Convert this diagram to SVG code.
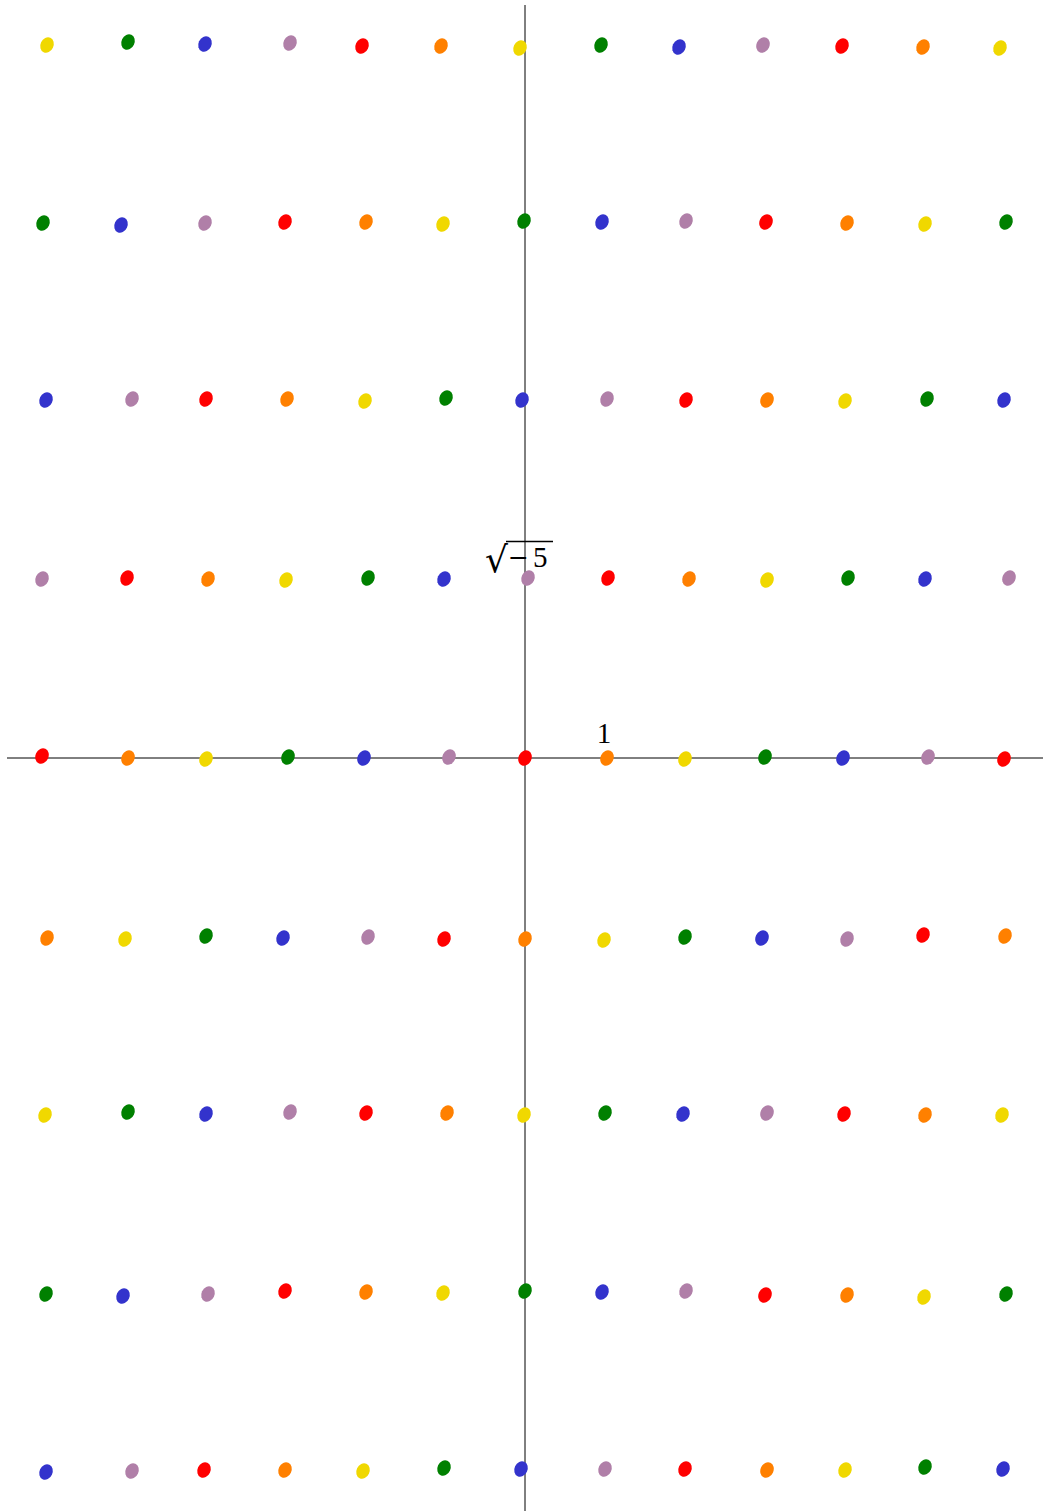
<svg xmlns="http://www.w3.org/2000/svg" width="1043" height="1511" viewBox="0 0 1043 1511">
<style>
.ax{stroke:#000;stroke-width:1;fill:none}
.r{fill:#ff0000}.o{fill:#ff8000}.y{fill:#f0d800}.g{fill:#008000}.b{fill:#3333cc}.p{fill:#b07fa8}
.lbl{font-family:"Liberation Serif","DejaVu Serif",serif;font-size:29px;fill:#000}
.rad{font-family:"DejaVu Serif",serif;font-size:36px;fill:#000}
.mn{font-family:"DejaVu Serif",serif;font-size:25px;fill:#000}
</style>
<defs>
<ellipse id="pt" cx="0" cy="0" rx="6.5" ry="8" transform="rotate(25)"/>
</defs>
<rect width="1043" height="1511" fill="#fff"/>
<g id="connectors">
<line class="ax" x1="7" y1="758" x2="1043" y2="758"/>
<line class="ax" x1="525" y1="5" x2="525" y2="1511"/>
</g>
<g id="row4">
<use href="#pt" class="y" x="47" y="45"/><use href="#pt" class="g" x="128" y="42"/><use href="#pt" class="b" x="205" y="44"/><use href="#pt" class="p" x="290" y="43"/><use href="#pt" class="r" x="362" y="46"/><use href="#pt" class="o" x="441" y="46"/><use href="#pt" class="y" x="520" y="48"/><use href="#pt" class="g" x="601" y="45"/><use href="#pt" class="b" x="679" y="47"/><use href="#pt" class="p" x="763" y="45"/><use href="#pt" class="r" x="842" y="46"/><use href="#pt" class="o" x="923" y="47"/><use href="#pt" class="y" x="1000" y="48"/>
</g>
<g id="row3">
<use href="#pt" class="g" x="43" y="223"/><use href="#pt" class="b" x="121" y="225"/><use href="#pt" class="p" x="205" y="223"/><use href="#pt" class="r" x="285" y="222"/><use href="#pt" class="o" x="366" y="222"/><use href="#pt" class="y" x="443" y="224"/><use href="#pt" class="g" x="524" y="221"/><use href="#pt" class="b" x="602" y="222"/><use href="#pt" class="p" x="686" y="221"/><use href="#pt" class="r" x="766" y="222"/><use href="#pt" class="o" x="847" y="223"/><use href="#pt" class="y" x="925" y="224"/><use href="#pt" class="g" x="1006" y="222"/>
</g>
<g id="row2">
<use href="#pt" class="b" x="46" y="400"/><use href="#pt" class="p" x="132" y="399"/><use href="#pt" class="r" x="206" y="399"/><use href="#pt" class="o" x="287" y="399"/><use href="#pt" class="y" x="365" y="401"/><use href="#pt" class="g" x="446" y="398"/><use href="#pt" class="b" x="522" y="400"/><use href="#pt" class="p" x="607" y="399"/><use href="#pt" class="r" x="686" y="400"/><use href="#pt" class="o" x="767" y="400"/><use href="#pt" class="y" x="845" y="401"/><use href="#pt" class="g" x="927" y="399"/><use href="#pt" class="b" x="1004" y="400"/>
</g>
<g id="row1">
<use href="#pt" class="p" x="42" y="579"/><use href="#pt" class="r" x="127" y="578"/><use href="#pt" class="o" x="208" y="579"/><use href="#pt" class="y" x="286" y="580"/><use href="#pt" class="g" x="368" y="578"/><use href="#pt" class="b" x="444" y="579"/><use href="#pt" class="p" x="528" y="578"/><use href="#pt" class="r" x="608" y="578"/><use href="#pt" class="o" x="689" y="579"/><use href="#pt" class="y" x="767" y="580"/><use href="#pt" class="g" x="848" y="578"/><use href="#pt" class="b" x="925" y="579"/><use href="#pt" class="p" x="1009" y="578"/>
</g>
<g id="row0">
<use href="#pt" class="r" x="42" y="756"/><use href="#pt" class="o" x="128" y="758"/><use href="#pt" class="y" x="206" y="759"/><use href="#pt" class="g" x="288" y="757"/><use href="#pt" class="b" x="364" y="758"/><use href="#pt" class="p" x="449" y="757"/><use href="#pt" class="r" x="525" y="758"/><use href="#pt" class="o" x="607" y="758"/><use href="#pt" class="y" x="685" y="759"/><use href="#pt" class="g" x="765" y="757"/><use href="#pt" class="b" x="843" y="758"/><use href="#pt" class="p" x="928" y="757"/><use href="#pt" class="r" x="1004" y="759"/>
</g>
<g id="rowm1">
<use href="#pt" class="o" x="47" y="938"/><use href="#pt" class="y" x="125" y="939"/><use href="#pt" class="g" x="206" y="936"/><use href="#pt" class="b" x="283" y="938"/><use href="#pt" class="p" x="368" y="937"/><use href="#pt" class="r" x="444" y="939"/><use href="#pt" class="o" x="525" y="939"/><use href="#pt" class="y" x="604" y="940"/><use href="#pt" class="g" x="685" y="937"/><use href="#pt" class="b" x="762" y="938"/><use href="#pt" class="p" x="847" y="939"/><use href="#pt" class="r" x="923" y="935"/><use href="#pt" class="o" x="1005" y="936"/>
</g>
<g id="rowm2">
<use href="#pt" class="y" x="45" y="1115"/><use href="#pt" class="g" x="128" y="1112"/><use href="#pt" class="b" x="206" y="1114"/><use href="#pt" class="p" x="290" y="1112"/><use href="#pt" class="r" x="366" y="1113"/><use href="#pt" class="o" x="447" y="1113"/><use href="#pt" class="y" x="524" y="1115"/><use href="#pt" class="g" x="605" y="1113"/><use href="#pt" class="b" x="683" y="1114"/><use href="#pt" class="p" x="767" y="1113"/><use href="#pt" class="r" x="844" y="1114"/><use href="#pt" class="o" x="925" y="1115"/><use href="#pt" class="y" x="1002" y="1115"/>
</g>
<g id="rowm3">
<use href="#pt" class="g" x="46" y="1294"/><use href="#pt" class="b" x="123" y="1296"/><use href="#pt" class="p" x="208" y="1294"/><use href="#pt" class="r" x="285" y="1291"/><use href="#pt" class="o" x="366" y="1292"/><use href="#pt" class="y" x="443" y="1293"/><use href="#pt" class="g" x="525" y="1291"/><use href="#pt" class="b" x="602" y="1292"/><use href="#pt" class="p" x="686" y="1291"/><use href="#pt" class="r" x="765" y="1295"/><use href="#pt" class="o" x="847" y="1295"/><use href="#pt" class="y" x="924" y="1297"/><use href="#pt" class="g" x="1006" y="1294"/>
</g>
<g id="rowm4">
<use href="#pt" class="b" x="46" y="1472"/><use href="#pt" class="p" x="132" y="1471"/><use href="#pt" class="r" x="204" y="1470"/><use href="#pt" class="o" x="285" y="1470"/><use href="#pt" class="y" x="363" y="1471"/><use href="#pt" class="g" x="444" y="1468"/><use href="#pt" class="b" x="521" y="1469"/><use href="#pt" class="p" x="605" y="1469"/><use href="#pt" class="r" x="685" y="1469"/><use href="#pt" class="o" x="767" y="1470"/><use href="#pt" class="y" x="845" y="1470"/><use href="#pt" class="g" x="925" y="1467"/><use href="#pt" class="b" x="1003" y="1469"/>
</g>
<g id="labels">
<text class="lbl" x="604" y="743" text-anchor="middle">1</text>
<text class="rad" x="485" y="572">√</text>
<line x1="506" y1="541.5" x2="553" y2="541.5" stroke="#000" stroke-width="1.3"/>
<text class="mn" x="508" y="566">−</text>
<text class="lbl" x="533" y="567">5</text>
</g>
</svg>
